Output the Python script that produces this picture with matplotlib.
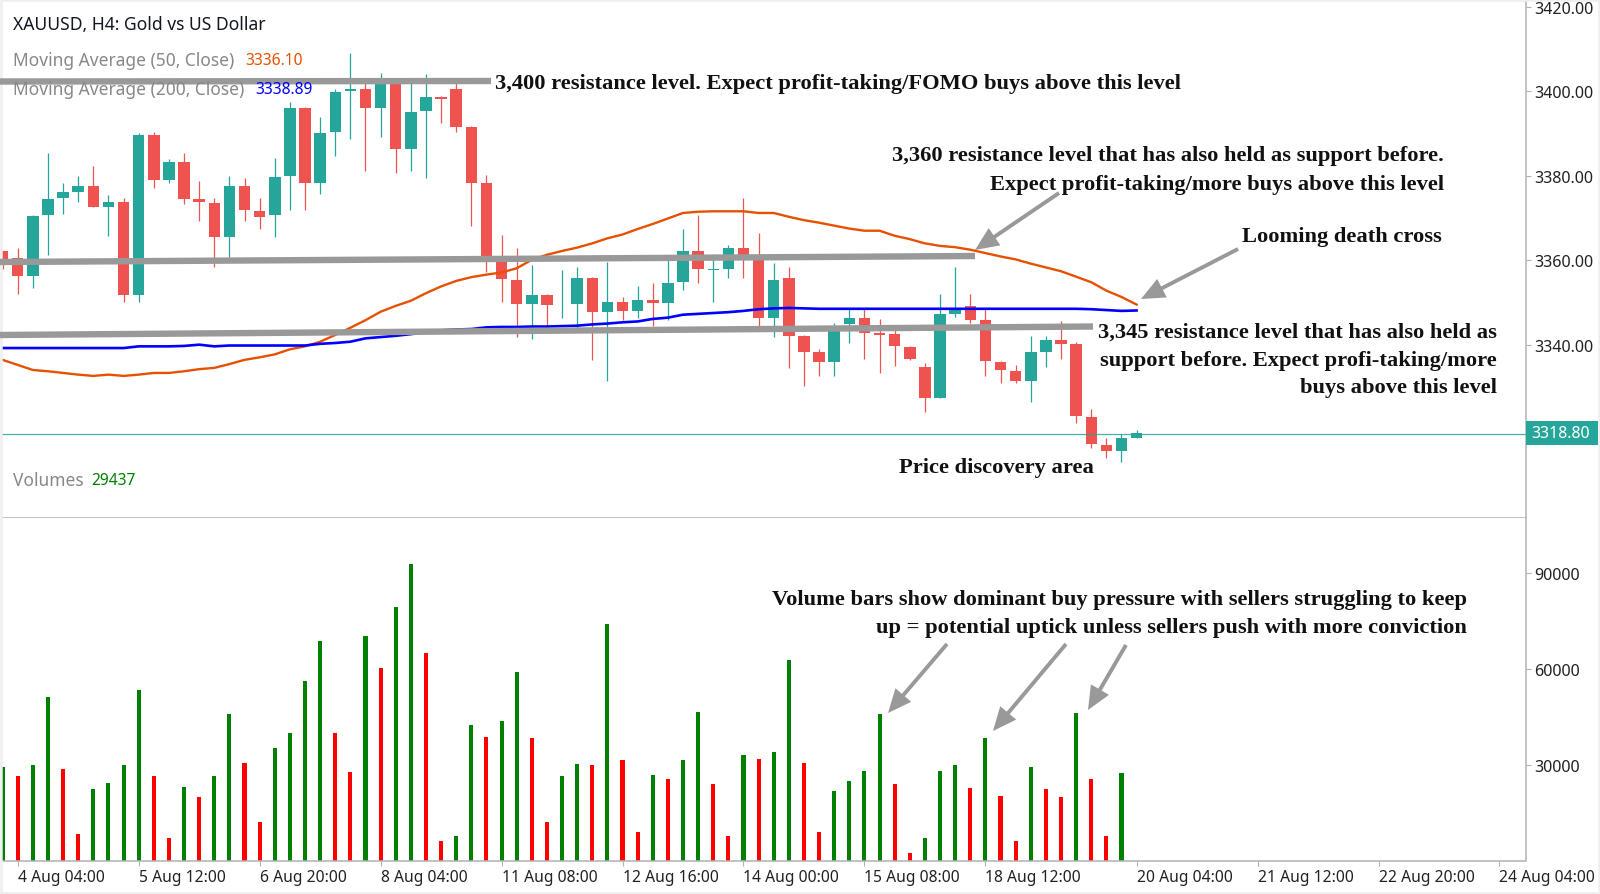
import matplotlib
matplotlib.use("Agg")
import matplotlib.pyplot as plt
from matplotlib.patches import Rectangle

# candles, index = 4h bar
candle_open = [3362.1, 3360.5, 3356.2, 3370.7, 3374.7, 3376.2, 3377.6, 3372.5, 3373.9, 3351.7,
               3389.7, 3379.1, 3383.3, 3374.5, 3373.6, 3365.6, 3377.6, 3371.7, 3370.7, 3380.0,
               3396.1, 3378.4, 3390.4, 3400.0, 3400.5, 3396.0, 3402.0, 3386.3, 3395.4, 3398.7,
               3400.5, 3391.5, 3378.3, 3359.9, 3355.4, 3349.6, 3351.7, 3349.3, 3349.6, 3355.8,
               3347.8, 3350.1, 3348.0, 3350.7, 3349.9, 3354.9, 3362.3, 3357.7, 3358.0, 3362.9,
               3361.1, 3346.4, 3355.8, 3342.1, 3338.2, 3335.9, 3344.9, 3346.4, 3342.7, 3342.5,
               3339.4, 3334.8, 3327.3, 3347.3, 3349.2, 3345.8, 3336.0, 3333.8, 3331.5, 3338.3,
               3341.0, 3340.1, 3322.8, 3316.2, 3314.9, 3317.9]
candle_close = [3359.5, 3356.2, 3370.5, 3374.5, 3376.1, 3377.6, 3372.5, 3373.9, 3351.7, 3389.7,
                3379.1, 3383.3, 3374.6, 3373.7, 3365.6, 3377.6, 3371.8, 3370.3, 3379.8, 3396.1,
                3378.4, 3390.1, 3399.9, 3400.5, 3396.0, 3402.0, 3386.3, 3395.2, 3398.7, 3398.2,
                3391.6, 3378.4, 3359.9, 3355.5, 3349.6, 3351.7, 3349.3, 3349.5, 3355.8, 3347.8,
                3350.1, 3348.0, 3350.7, 3349.9, 3354.7, 3362.3, 3358.0, 3357.9, 3362.9, 3361.1,
                3346.4, 3355.4, 3342.1, 3338.3, 3335.9, 3343.3, 3346.4, 3342.7, 3342.4, 3339.7,
                3336.7, 3327.3, 3347.3, 3348.6, 3345.9, 3336.1, 3334.0, 3331.5, 3338.2, 3341.0,
                3340.2, 3323.1, 3316.4, 3314.9, 3317.9, 3319.0]
candle_high = [3362.1, 3362.9, 3370.8, 3385.5, 3378.3, 3379.9, 3382.4, 3375.5, 3374.8, 3390.1,
               3390.5, 3384.0, 3385.5, 3378.7, 3374.8, 3379.9, 3379.6, 3374.8, 3384.2, 3397.4,
               3396.4, 3394.0, 3400.5, 3409.1, 3402.0, 3404.3, 3403.0, 3402.5, 3404.1, 3399.0,
               3401.9, 3391.8, 3380.2, 3366.1, 3362.9, 3358.8, 3352.0, 3357.7, 3358.3, 3356.1,
               3359.6, 3351.4, 3353.9, 3354.5, 3360.3, 3367.4, 3370.8, 3360.3, 3363.7, 3374.8,
               3366.4, 3359.3, 3358.5, 3342.3, 3338.9, 3345.1, 3348.8, 3348.8, 3346.0, 3344.5,
               3339.7, 3335.7, 3352.0, 3358.5, 3352.0, 3348.4, 3336.2, 3335.2, 3342.0, 3342.0,
               3345.5, 3340.7, 3324.7, 3318.0, 3318.9, 3319.8]
candle_low = [3358.0, 3352.1, 3353.4, 3361.2, 3370.9, 3373.7, 3372.5, 3365.8, 3350.2, 3350.2,
              3377.1, 3378.4, 3373.4, 3369.4, 3358.4, 3360.7, 3369.4, 3367.4, 3365.6, 3371.8,
              3371.8, 3375.6, 3384.7, 3388.7, 3381.2, 3389.1, 3380.6, 3381.2, 3379.4, 3392.6,
              3390.3, 3368.1, 3357.2, 3350.2, 3341.8, 3341.4, 3343.0, 3346.4, 3342.9, 3336.4,
              3331.4, 3345.8, 3346.4, 3344.5, 3345.8, 3353.0, 3354.6, 3350.2, 3355.8, 3355.8,
              3344.5, 3341.7, 3334.5, 3330.2, 3332.6, 3332.6, 3340.5, 3336.7, 3333.3, 3334.9,
              3336.4, 3324.0, 3327.3, 3346.5, 3345.1, 3332.6, 3330.8, 3330.8, 3326.5, 3334.8,
              3336.7, 3321.4, 3315.5, 3313.2, 3312.1, 3317.8]

ma50 = [3336.4, 3335.2, 3334.0, 3333.7, 3333.3, 3332.9, 3332.6, 3332.9, 3332.6, 3332.9,
        3333.3, 3333.3, 3333.7, 3334.2, 3334.5, 3335.4, 3336.4, 3337.0, 3337.7, 3338.9,
        3339.6, 3340.7, 3342.3, 3344.0, 3345.8, 3347.8, 3349.2, 3350.4, 3352.2, 3353.8,
        3355.1, 3356.0, 3356.6, 3357.1, 3358.1, 3360.1, 3361.3, 3362.2, 3363.0, 3364.0,
        3365.2, 3366.1, 3367.4, 3368.6, 3369.9, 3371.2, 3371.5, 3371.6, 3371.6, 3371.6,
        3371.2, 3371.2, 3370.3, 3369.5, 3368.9, 3368.2, 3367.5, 3367.0, 3367.0, 3365.8,
        3365.0, 3364.0, 3363.4, 3363.1, 3362.5, 3361.7, 3360.9, 3360.2, 3359.2, 3358.3,
        3357.4, 3356.1, 3354.8, 3352.8, 3351.3, 3349.5]
ma200 = [3339.2, 3339.2, 3339.2, 3339.2, 3339.2, 3339.2, 3339.2, 3339.2, 3339.2, 3339.6,
         3339.6, 3339.6, 3339.7, 3340.0, 3339.6, 3339.8, 3339.8, 3339.8, 3339.8, 3339.8,
         3339.8, 3340.2, 3340.4, 3340.7, 3341.5, 3341.8, 3342.1, 3342.5, 3342.9, 3343.4,
         3343.6, 3343.7, 3344.1, 3344.2, 3344.2, 3344.3, 3344.3, 3344.4, 3344.5, 3344.8,
         3345.0, 3345.3, 3345.5, 3346.1, 3346.4, 3347.1, 3347.3, 3347.5, 3347.7, 3348.0,
         3348.4, 3348.6, 3348.7, 3348.6, 3348.5, 3348.5, 3348.5, 3348.5, 3348.5, 3348.5,
         3348.5, 3348.5, 3348.5, 3348.5, 3348.5, 3348.5, 3348.5, 3348.5, 3348.5, 3348.5,
         3348.5, 3348.5, 3348.4, 3348.2, 3348.0, 3348.1]

volume = [29500, 26560, 29900, 51350, 28650, 8440, 22400, 24480, 29900, 53330,
          26560, 7190, 23230, 19900, 26560, 45940, 30630, 12080, 35310, 40100,
          56250, 68750, 40100, 27810, 70310, 60310, 79480, 92710, 64900, 6250,
          7920, 42600, 38850, 43850, 59170, 38540, 12080, 26560, 30310, 29900,
          74060, 31560, 9170, 26980, 25730, 31560, 46670, 24060, 7920, 33230,
          31880, 34060, 62810, 30630, 9170, 21980, 24900, 28130, 45940, 24060,
          2600, 7190, 28130, 29900, 22810, 38540, 20310, 6250, 29380, 22400,
          19900, 46350, 25730, 7920, 27450]
volume_up = [1, 0, 1, 1, 0, 0, 1, 1, 1, 1,
             0, 0, 1, 0, 1, 1, 0, 0, 1, 1,
             1, 1, 0, 0, 1, 0, 1, 1, 0, 0,
             1, 1, 0, 1, 1, 0, 0, 1, 1, 0,
             1, 0, 0, 1, 0, 1, 1, 0, 0, 1,
             0, 1, 1, 0, 0, 1, 1, 1, 1, 0,
             0, 1, 1, 1, 0, 1, 0, 0, 1, 0,
             0, 1, 0, 0, 1]

price_ticks = [3340, 3360, 3380, 3400, 3420]
volume_ticks = [30000, 60000, 90000]
date_ticks = [1, 9, 17, 25, 33, 41, 49, 57, 65, 75, 83, 91, 99]
date_labels = ["4 Aug 04:00", "5 Aug 12:00", "6 Aug 20:00", "8 Aug 04:00", "11 Aug 08:00",
               "12 Aug 16:00", "14 Aug 00:00", "15 Aug 08:00", "18 Aug 12:00", "20 Aug 04:00",
               "21 Aug 12:00", "22 Aug 20:00", "24 Aug 04:00"]
last_price = 3318.80

W, H = 1600, 895
GREEN = "#26a69a"
RED = "#ef5350"
AXIS = "#b2b2b2"
ARROW = "#999999"
UI_FONT = "Noto Sans"
NOTE_FONT = "Liberation Serif"

def pane(left, top, right, bottom):
  return [left / W, 1 - bottom / H, (right - left) / W, (bottom - top) / H]

fig = plt.figure(figsize=(W / 100, H / 100), dpi=100, facecolor="white")
ax1 = fig.add_axes(pane(2, 0, 1525.5, 518.5))
ax2 = fig.add_axes(pane(2, 518.5, 1525.5, 862))

x_min, x_max = -0.04, 100.72
for ax in (ax1, ax2):
  ax.set_xlim(x_min, x_max)
  ax.yaxis.tick_right()
  ax.spines["top"].set_visible(False)
  ax.spines["left"].set_visible(False)
  for side in ("right", "bottom"):
    ax.spines[side].set_color(AXIS)
    ax.spines[side].set_linewidth(1.1)
  ax.tick_params(axis="both", color=AXIS, length=3.5, width=0.8, labelcolor="#222222")
  ax.tick_params(axis="x", labelsize=11.25, pad=2)
  ax.tick_params(axis="y", labelsize=11.6, pad=3)

ax1.set_ylim(3299.05, 3421.9)
ax2.set_ylim(0, 107400)

# candles
xs = list(range(len(candle_open)))
colors = [GREEN if c >= o else RED for o, c in zip(candle_open, candle_close)]
ax1.vlines(xs, candle_low, candle_high, colors=colors, linewidth=0.9, zorder=2)
heights = [abs(c - o) for o, c in zip(candle_open, candle_close)]
bottoms = [min(o, c) for o, c in zip(candle_open, candle_close)]
ax1.bar(xs, heights, bottom=bottoms, width=0.76, color=colors, zorder=3)

ax1.plot(xs, ma50, color="#e65100", linewidth=1.7, zorder=4)
ax1.plot(xs, ma200, color="#0000ff", linewidth=1.9, zorder=4)
ax1.axhline(last_price, color=GREEN, linewidth=0.9, alpha=0.85, zorder=4)

ax1.set_xticks([])
ax1.set_yticks(price_ticks)
ax1.set_yticklabels(["%.2f" % t for t in price_ticks], family=UI_FONT)

# volume
vol_colors = ["#008000" if u else "#ff0000" for u in volume_up]
ax2.bar(range(len(volume)), volume, width=0.27, color=vol_colors)
ax2.set_yticks(volume_ticks)
ax2.set_yticklabels([str(t) for t in volume_ticks], family=UI_FONT)
ax2.set_xticks(date_ticks)
ax2.set_xticklabels(date_labels, family=UI_FONT, ha="left")

# overlay in picture pixels for the hand drawn notes
over = fig.add_axes([0, 0, 1, 1], zorder=10)
over.set_xlim(0, W)
over.set_ylim(H, 0)
over.axis("off")
over.patch.set_alpha(0)

over.text(13, 24.5, "XAUUSD, H4: Gold vs US Dollar", family=UI_FONT, fontsize=12.6, color="#131722", va="center")
over.text(13, 60.5, "Moving Average (50, Close)", family=UI_FONT, fontsize=12.5, color="#888888", va="center")
over.text(245, 61, "3336.10", family=UI_FONT, fontsize=11.2, color="#e65100", va="center")
over.text(13, 89.5, "Moving Average (200, Close)", family=UI_FONT, fontsize=12.5, color="#888888", va="center")
over.text(255, 90, "3338.89", family=UI_FONT, fontsize=11.2, color="#0000ff", va="center")
over.text(13, 480.5, "Volumes", family=UI_FONT, fontsize=12.5, color="#888888", va="center")
over.text(91, 481, "29437", family=UI_FONT, fontsize=11.2, color="#008000", va="center")

# badge for the last price
over.add_patch(Rectangle((1525.5, 422), 72, 23.5, facecolor=GREEN, edgecolor="none"))
over.text(1561, 434, "%.2f" % last_price, family=UI_FONT, fontsize=11.5, color="white", ha="center", va="center")

# level lines
levels = [((0, 82.5), (491, 82)), ((0, 263), (975, 257)), ((0, 336), (1093, 327.5))]
for start, end in levels:
  over.plot([start[0], end[0]], [start[1], end[1]], color=ARROW, linewidth=4.6, solid_capstyle="butt")

# arrows
arrows = [((1059, 194), (975, 251)), ((1238, 250), (1141, 300)),
          ((947, 645), (888, 714)), ((1066, 645), (993, 732)), ((1126, 646), (1088, 711))]
for tail, tip in arrows:
  over.annotate("", xy=tip, xytext=tail, xycoords="data", textcoords="data",
                arrowprops=dict(facecolor=ARROW, edgecolor="none", width=2.8, headwidth=15, headlength=17, shrink=0))

notes = [(495, 84, "left", "3,400 resistance level. Expect profit-taking/FOMO buys above this level"),
         (1444, 156, "right", "3,360 resistance level that has also held as support before."),
         (1444, 184.5, "right", "Expect profit-taking/more buys above this level"),
         (1442, 237, "right", "Looming death cross"),
         (1497, 332.5, "right", "3,345 resistance level that has also held as"),
         (1497, 360.5, "right", "support before. Expect profi-taking/more"),
         (1497, 388.5, "right", "buys above this level"),
         (1094, 467.5, "right", "Price discovery area"),
         (1467, 600, "right", "Volume bars show dominant buy pressure with sellers struggling to keep"),
         (1467, 628, "right", "up = potential uptick unless sellers push with more conviction")]
for x, y, align, text in notes:
  over.text(x, y, text, family=NOTE_FONT, weight="bold", fontsize=16.2, color="#111111", ha=align, va="center")

# thin grey frame of the screenshot
over.add_patch(Rectangle((1, 1), 1597.5, 892.5, facecolor="none", edgecolor="#eeeeee", linewidth=1.8, clip_on=False))

plt.savefig("out.png", dpi=100)
